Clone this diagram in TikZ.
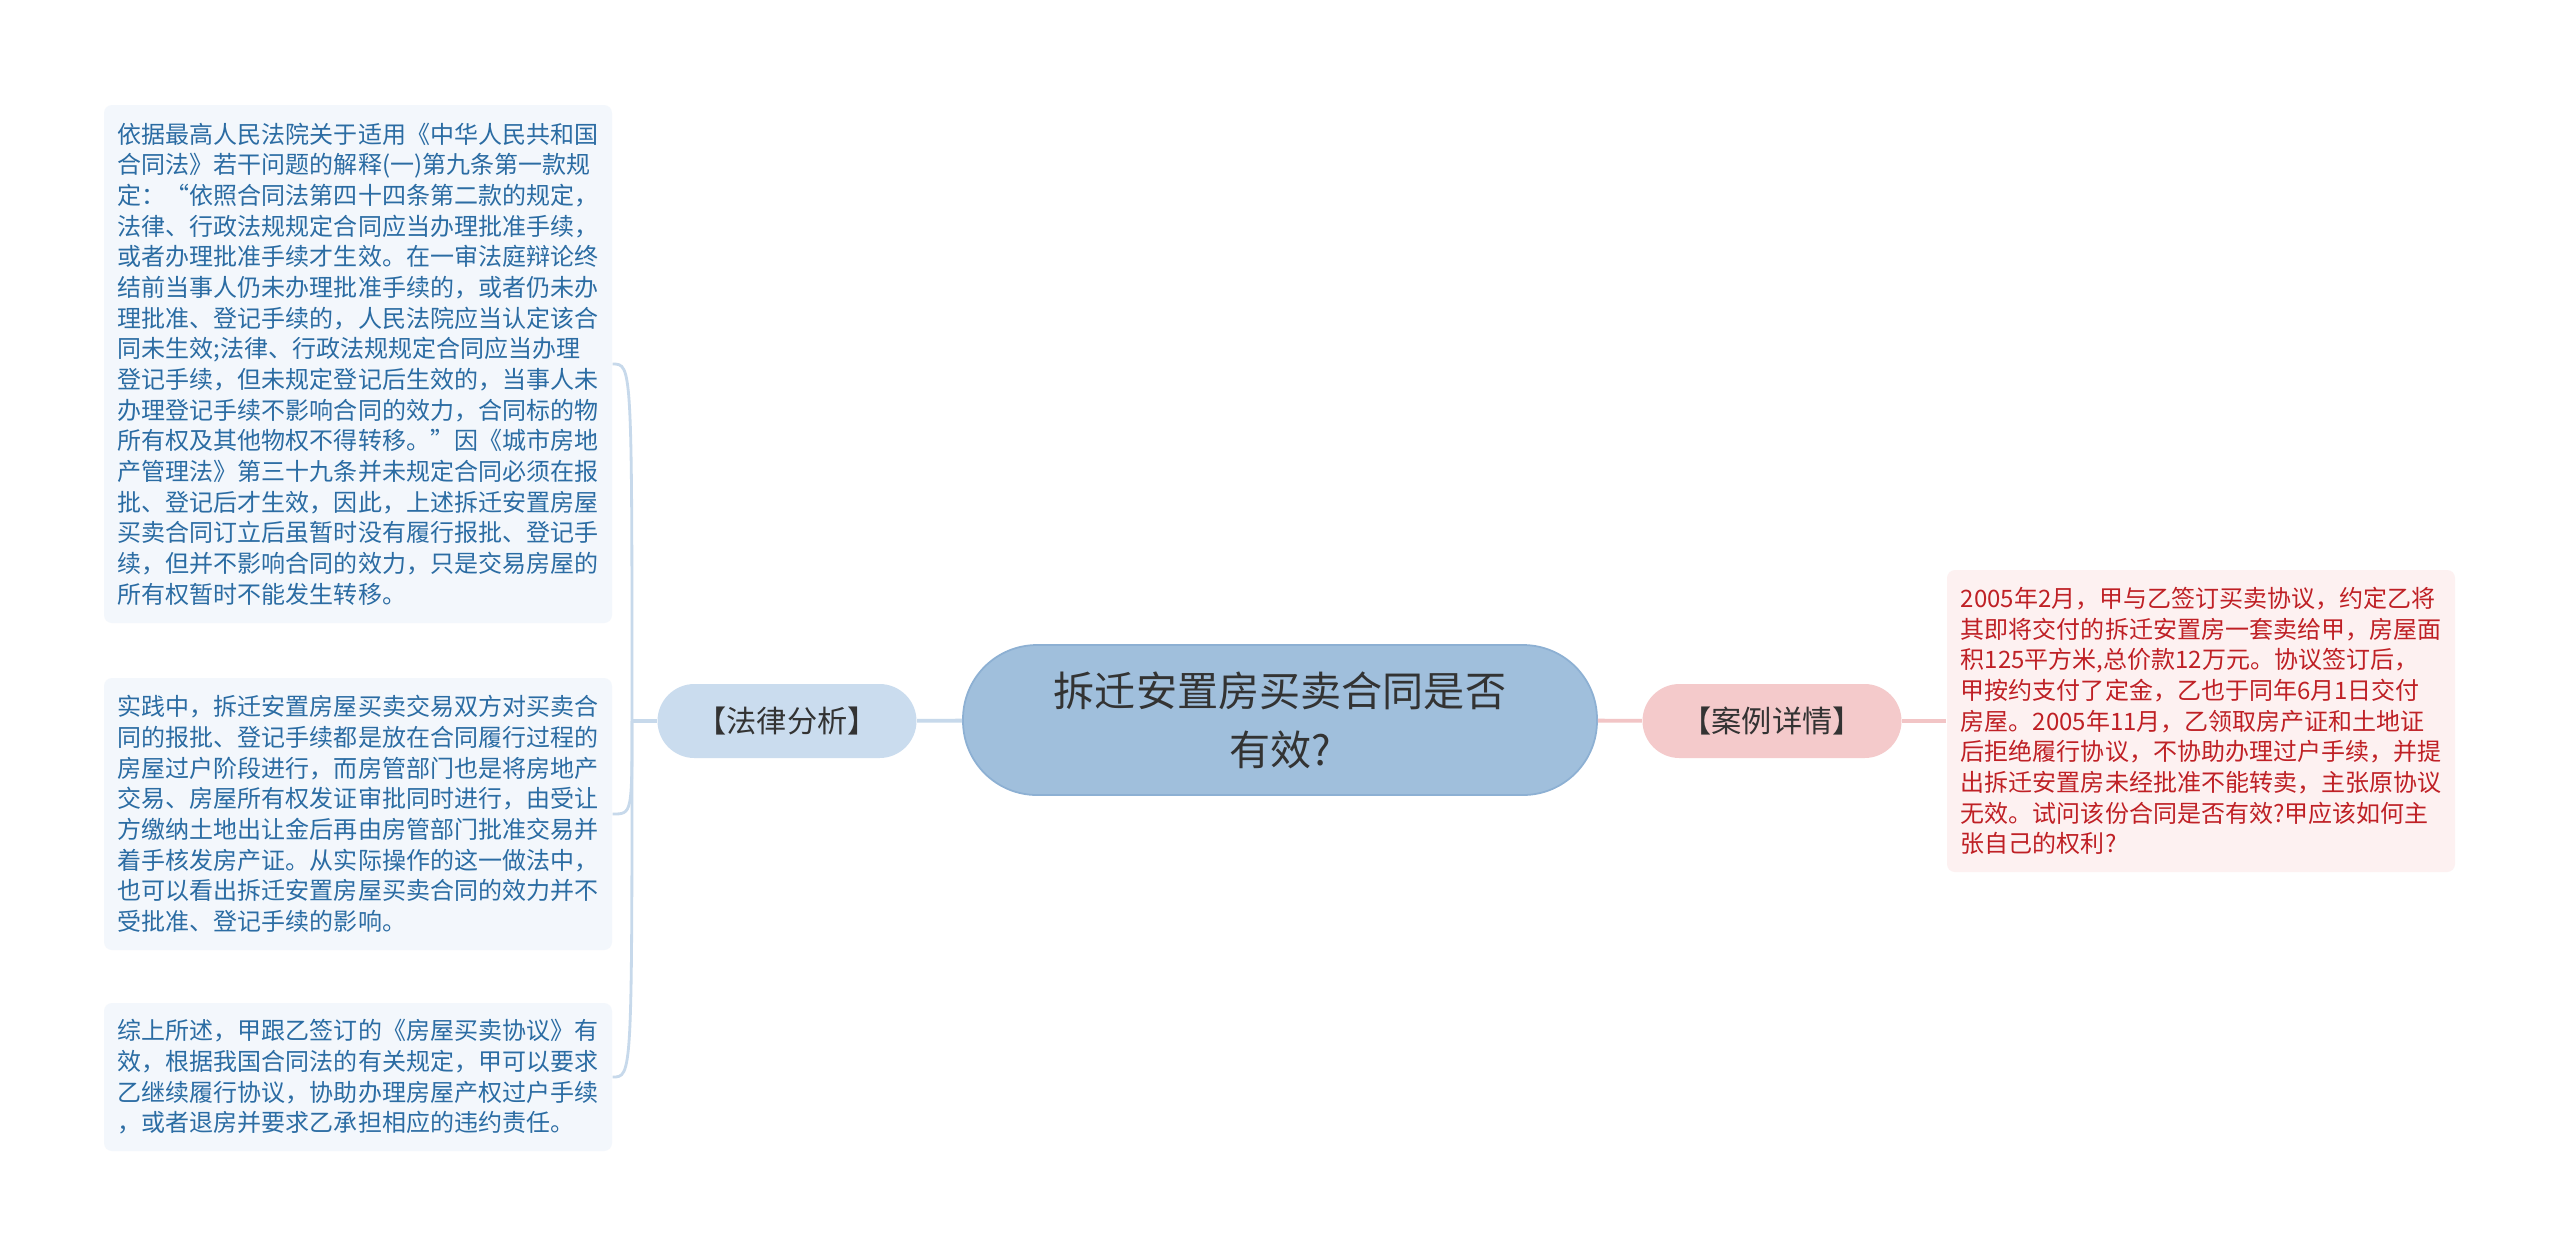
\documentclass[tikz,border=0pt]{standalone}
\usepackage{fontspec}
\setmainfont{Noto Sans CJK SC}
\usepackage{tikz}
\usetikzlibrary{calc}

\definecolor{rootfill}{HTML}{A0BFDC}
\definecolor{rootline}{HTML}{8DB0D3}
\definecolor{lawfill}{HTML}{CADCEE}
\definecolor{lawline}{HTML}{C7D9EB}
\definecolor{lawbox}{HTML}{F3F7FC}
\definecolor{lawtext}{HTML}{2B6CA3}
\definecolor{casefill}{HTML}{F4CACB}
\definecolor{caseline}{HTML}{F2C5C6}
\definecolor{casebox}{HTML}{FDF1F1}
\definecolor{casetext}{HTML}{BF2025}
\definecolor{darktext}{HTML}{333333}

\tikzset{
  root/.style = {rectangle, rounded corners = 7.4mm, minimum width = 63.4mm,
    minimum height = 15mm, inner sep = 0pt, fill = rootfill, draw = rootline,
    line width = 0.5pt, text = darktext, align = center,
    font = \fontsize{11.7pt}{16.8pt}\selectfont},
  branch/.style = {rectangle, rounded corners = 3.7mm, minimum width = 25.9mm,
    minimum height = 7.4mm, inner sep = 0pt, text = darktext,
    font = \fontsize{8.6pt}{10pt}\selectfont},
  leaf/.style = {rectangle, rounded corners = 0.8mm, minimum width = 50.8mm,
    inner sep = 0pt, align = left, font = \fontsize{6.83pt}{8.73pt}\selectfont},
  lawleaf/.style = {leaf, fill = lawbox, text = lawtext},
  caseleaf/.style = {leaf, fill = casebox, text = casetext},
  lawlink/.style = {draw = lawline, line width = 1.1pt},
  lawfork/.style = {draw = lawline, line width = 0.8pt},
  caselink/.style = {draw = caseline, line width = 1.1pt}
}

\begin{document}
\begin{tikzpicture}[x = 0.1mm, y = -0.1mm]
\fill [white] (0, 0) rectangle (2560, 1256);
\useasboundingbox (0, 0) rectangle (2560, 1256);
%\draw[very thin, color = gray](0, 0) grid[step = 100] (2560, 1256);

% centre and the two branches
\node (title) at (1280, 720) [root] {拆迁安置房买卖合同是否\\有效?};
\node (law) at (787, 721) [branch, fill = lawfill] {【法律分析】};
\node (case) at (1772, 721) [branch, fill = casefill] {【案例详情】};
\coordinate (fork) at (632, 721);

% left leaves
\node (lawa) at (358, 364) [lawleaf, minimum height = 51.8mm] {依据最高人民法院关于适用《中华人民共和国\\
合同法》若干问题的解释(一)第九条第一款规\\
定：“依照合同法第四十四条第二款的规定，\\
法律、行政法规规定合同应当办理批准手续，\\
或者办理批准手续才生效。在一审法庭辩论终\\
结前当事人仍未办理批准手续的，或者仍未办\\
理批准、登记手续的，人民法院应当认定该合\\
同未生效;法律、行政法规规定合同应当办理\\
登记手续，但未规定登记后生效的，当事人未\\
办理登记手续不影响合同的效力，合同标的物\\
所有权及其他物权不得转移。”因《城市房地\\
产管理法》第三十九条并未规定合同必须在报\\
批、登记后才生效，因此，上述拆迁安置房屋\\
买卖合同订立后虽暂时没有履行报批、登记手\\
续，但并不影响合同的效力，只是交易房屋的\\
所有权暂时不能发生转移。};
\node (lawb) at (358, 814) [lawleaf, minimum height = 27.2mm] {实践中，拆迁安置房屋买卖交易双方对买卖合\\
同的报批、登记手续都是放在合同履行过程的\\
房屋过户阶段进行，而房管部门也是将房地产\\
交易、房屋所有权发证审批同时进行，由受让\\
方缴纳土地出让金后再由房管部门批准交易并\\
着手核发房产证。从实际操作的这一做法中，\\
也可以看出拆迁安置房屋买卖合同的效力并不\\
受批准、登记手续的影响。};
\node (lawc) at (358, 1077) [lawleaf, minimum height = 14.8mm] {综上所述，甲跟乙签订的《房屋买卖协议》有\\
效，根据我国合同法的有关规定，甲可以要求\\
乙继续履行协议，协助办理房屋产权过户手续\\
，或者退房并要求乙承担相应的违约责任。};

% right leaf
\node (casea) at (2201, 721) [caseleaf, minimum height = 30.2mm] {2005年2月，甲与乙签订买卖协议，约定乙将\\
其即将交付的拆迁安置房一套卖给甲，房屋面\\
积125平方米,总价款12万元。协议签订后，\\
甲按约支付了定金，乙也于同年6月1日交付\\
房屋。2005年11月，乙领取房产证和土地证\\
后拒绝履行协议，不协助办理过户手续，并提\\
出拆迁安置房未经批准不能转卖，主张原协议\\
无效。试问该份合同是否有效?甲应该如何主\\
张自己的权利?};

% connectors
\draw [lawlink] (title) -- (law);
\draw [lawlink] (law.west) -- (fork);
\draw [lawfork] (fork) .. controls (fork |- lawa.east) .. (lawa.east);
\draw [lawfork] (fork) .. controls (fork |- lawb.east) .. (lawb.east);
\draw [lawfork] (fork) .. controls (fork |- lawc.east) .. (lawc.east);
\draw [caselink] (title) -- (case);
\draw [caselink] (case) -- (casea);
\end{tikzpicture}
\end{document}
